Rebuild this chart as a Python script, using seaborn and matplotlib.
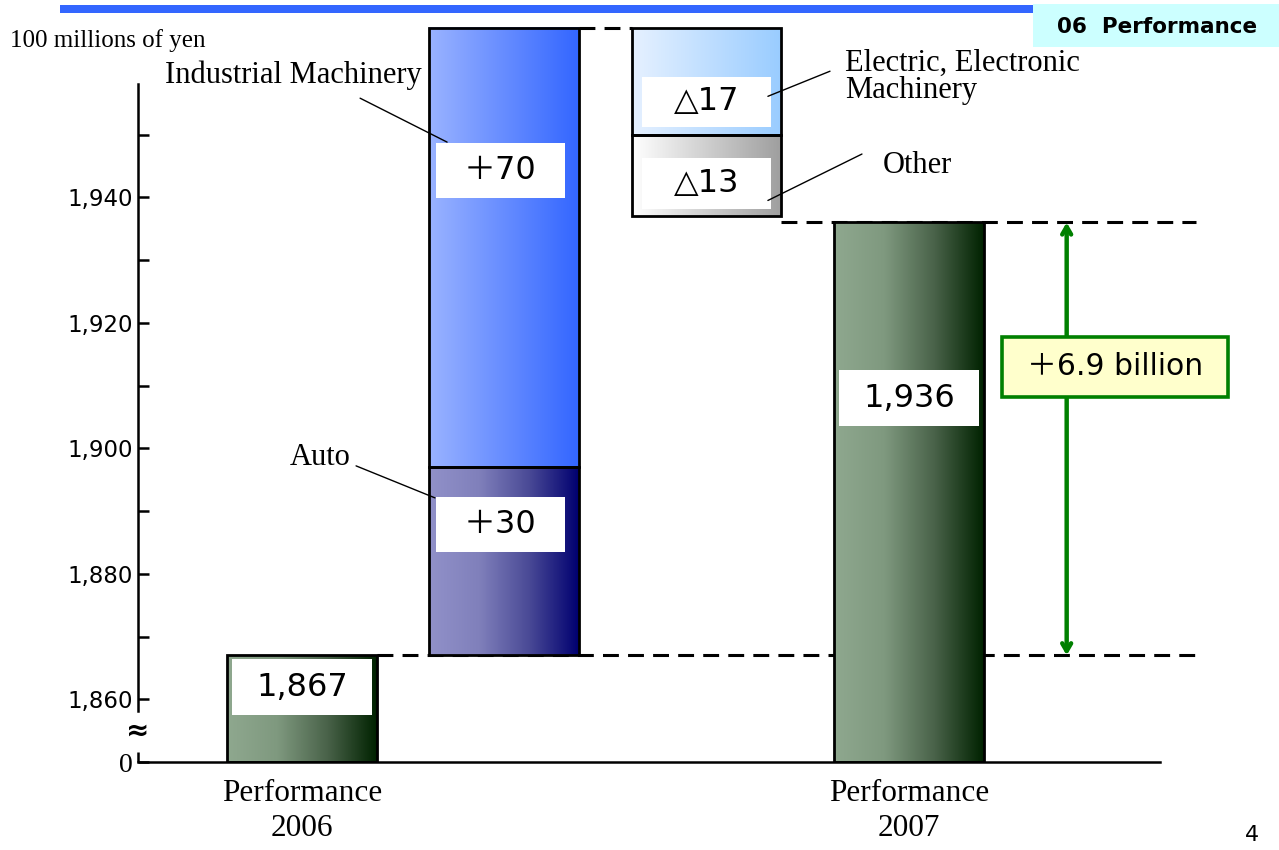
import numpy as np
import matplotlib
matplotlib.use("Agg")
import matplotlib.pyplot as plt
from matplotlib.colors import LinearSegmentedColormap
from matplotlib.patches import Rectangle
import seaborn as sns

# Net sales, 100 millions of yen
categories = ["Performance\n2006", "Increase", "Decrease", "Performance\n2007"]
category_tick_labels = ["Performance\n2006", "", "", "Performance\n2007"]
start_value = 1867
end_value = 1936
total_labels = ["1,867", "1,936"]
segment_names = ["Auto", "Industrial Machinery", "Electric, Electronic\nMachinery", "Other"]
segment_slots = ["Increase", "Increase", "Decrease", "Decrease"]
segment_changes = [30, 70, -17, -13]
segment_labels = ["＋30", "＋70", "△17", "△13"]
change_label = "＋6.9 billion"
y_ticks = [1860, 1880, 1900, 1920, 1940]
y_tick_labels = ["1,860", "1,880", "1,900", "1,920", "1,940"]
minor_ticks = [1870, 1890, 1910, 1930, 1950]
unit_label = "100 millions of yen"

# layout
AXIS_FLOOR = 1850          # broken axis: this level is shown as "0"
AXIS_TOP = 1970
SPINE_TOP = 1958
BAR_WIDTH = 0.74
SERIF = ["Liberation Serif", "DejaVu Serif"]
GOTHIC = ["DejaVu Sans", "Noto Sans CJK JP"]

sns.set_style("white")
plt.rcParams["font.family"] = GOTHIC
for key in ["text.color", "axes.labelcolor", "xtick.color", "ytick.color", "axes.edgecolor"]:
    plt.rcParams[key] = "black"

fig = plt.figure(figsize=(12.79, 8.5), dpi=100)
ax = fig.add_axes([0.1079, 0.1035, 0.7990, 0.8858])

gradients = {
    "total": ["#8fa88f", "#7f997f", "#4a634a", "#002200"],
    "Auto": ["#9191c9", "#8080bb", "#4a4a96", "#000070"],
    "Industrial Machinery": ["#9ab3ff", "#3366ff"],
    "Electric, Electronic\nMachinery": ["#e6f1ff", "#99ccff"],
    "Other": ["#ffffff", "#9e9e9e"],
}


def draw_bar(cat, bottom, height, key):
    n_before = len(ax.patches)
    sns.barplot(x=[cat], y=[height], order=categories, bottom=bottom,
                width=BAR_WIDTH, errorbar=None, ax=ax, color="white")
    bar = ax.patches[n_before]
    x0, w = bar.get_x(), bar.get_width()
    y0, h = bar.get_y(), bar.get_height()
    cmap = LinearSegmentedColormap.from_list(key, gradients[key])
    ax.imshow(np.linspace(0, 1, 256)[None, :], cmap=cmap, aspect="auto",
              extent=[x0, x0 + w, y0, y0 + h], zorder=2, interpolation="bilinear")
    bar.set_facecolor("none")
    bar.set_edgecolor("black")
    bar.set_linewidth(2.0)
    bar.set_zorder(3)
    return bar


# dashed guide lines (behind bars)
dash = dict(color="black", lw=2.2, linestyle=(0, (5.2, 3.0)), zorder=1, clip_on=False)
ax.plot([0.37, 4.42], [start_value, start_value], **dash)
ax.plot([2.37, 4.42], [end_value, end_value], **dash)

# totals
draw_bar(categories[0], AXIS_FLOOR, start_value - AXIS_FLOOR, "total")
draw_bar(categories[3], AXIS_FLOOR, end_value - AXIS_FLOOR, "total")

# waterfall segments
level = start_value
seg_bounds = []
for name, slot, ch in zip(segment_names, segment_slots, segment_changes):
    bottom = level if ch >= 0 else level + ch
    draw_bar(slot, bottom, abs(ch), name)
    seg_bounds.append((bottom, bottom + abs(ch)))
    level += ch
peak = max(b[1] for b in seg_bounds)
ax.plot([1.37, 1.63], [peak, peak], **dash)


def label_box(x, y, text, w, h, size=23):
    ax.add_patch(Rectangle((x - w / 2, y - h / 2), w, h, facecolor="white",
                           edgecolor="none", zorder=4))
    ax.text(x, y, text, ha="center", va="center", fontsize=size,
            family=GOTHIC, zorder=5)


label_box(0, 1861.9, total_labels[0], 0.69, 8.9)
label_box(3, 1908.0, total_labels[1], 0.69, 8.9)
seg_label_pos = [(0.98, 1887.9), (0.98, 1944.3), (2.0, 1955.2), (2.0, 1942.2)]
for (x, y), txt, slot in zip(seg_label_pos, segment_labels, segment_slots):
    label_box(x, y, txt, 0.635, 8.7 if slot == "Increase" else 8.1)

# segment names with leader lines
serif_kw = dict(family=SERIF, fontsize=22, zorder=6)
ax.text(0.59, 1959.5, segment_names[1], ha="right", va="center", **serif_kw)
ax.plot([0.287, 0.717], [1955.8, 1948.8], color="black", lw=1, zorder=6)
ax.text(0.089, 1898.5, segment_names[0], ha="center", va="center", **serif_kw)
ax.plot([0.267, 0.657], [1897.2, 1892.1], color="black", lw=1, zorder=6)
ax.text(2.684, 1959.2, segment_names[2], ha="left", va="center",
        linespacing=0.9, clip_on=False, **serif_kw)
ax.plot([2.303, 2.61], [1956.1, 1960.1], color="black", lw=1, zorder=6)
ax.text(3.04, 1945.1, segment_names[3], ha="center", va="center", **serif_kw)
ax.plot([2.303, 2.768], [1939.5, 1946.9], color="black", lw=1, zorder=6)

# overall change arrow
ax.annotate("", xy=(3.78, end_value), xytext=(3.78, start_value),
            arrowprops=dict(arrowstyle="<->,head_length=0.55,head_width=0.32",
                            color="#008000", lw=3.2, shrinkA=0, shrinkB=0),
            zorder=6)
ax.add_patch(Rectangle((4.019 - 0.558, 1913.0 - 4.8), 1.116, 9.6,
                       facecolor="#ffffcc", edgecolor="#008000", lw=2.6,
                       zorder=7, clip_on=False))
ax.text(4.019, 1913.0, change_label, ha="center", va="center", fontsize=21.5,
        family=GOTHIC, zorder=8, clip_on=False)

# axes
ax.set_xlim(-0.811, 4.241)
ax.set_ylim(AXIS_FLOOR, AXIS_TOP)
ax.set_xticks(range(len(categories)))
ax.set_xticklabels(category_tick_labels, family=SERIF, fontsize=22.5, linespacing=1.3)
ax.tick_params(axis="x", length=0, pad=12)
ax.set_xlabel("")
ax.set_ylabel("")
ax.set_yticks([AXIS_FLOOR] + y_ticks)
ax.set_yticklabels(["0"] + y_tick_labels, fontsize=16.5)
ax.get_yticklabels()[0].set_fontfamily(SERIF)
ax.get_yticklabels()[0].set_fontsize(20)
ax.set_yticks(minor_ticks, minor=True)
ax.tick_params(axis="y", which="both", direction="in", length=8, width=1.8,
               left=True, pad=4, colors="black")
for side in ["top", "right"]:
    ax.spines[side].set_visible(False)
ax.spines["left"].set_bounds(1858.2, SPINE_TOP)
ax.spines["left"].set_linewidth(1.8)
ax.spines["bottom"].set_linewidth(1.8)
ax.plot([-0.811, -0.811], [AXIS_FLOOR, 1851.6], color="black", lw=1.8,
        clip_on=False, zorder=6, solid_capstyle="butt")
ax.text(-0.811, 1855.0, "≈", ha="center", va="center", fontsize=20,
        family=["DejaVu Sans"], fontweight="bold", zorder=6)
ax.grid(False)

# page furniture
fig.text(10 / 1279, 1 - 41 / 850, unit_label, family=SERIF, fontsize=18,
         ha="left", va="center")
fig.add_artist(Rectangle((60 / 1279, 1 - 12.5 / 850), (1033 - 60) / 1279, 7.5 / 850,
                         transform=fig.transFigure, facecolor="#3366ff", edgecolor="none"))
fig.add_artist(Rectangle((1033 / 1279, 1 - 47 / 850), (1279 - 1033) / 1279, 43 / 850,
                         transform=fig.transFigure, facecolor="#ccffff", edgecolor="none"))
fig.text(1157 / 1279, 1 - 27 / 850, "06  Performance", ha="center", va="center",
         fontsize=15.5, fontweight="bold", family=["DejaVu Sans"])
fig.text(1252 / 1279, 1 - 835 / 850, "4", ha="center", va="center", fontsize=16,
         family=GOTHIC)

fig.savefig("out.png", dpi=100)
